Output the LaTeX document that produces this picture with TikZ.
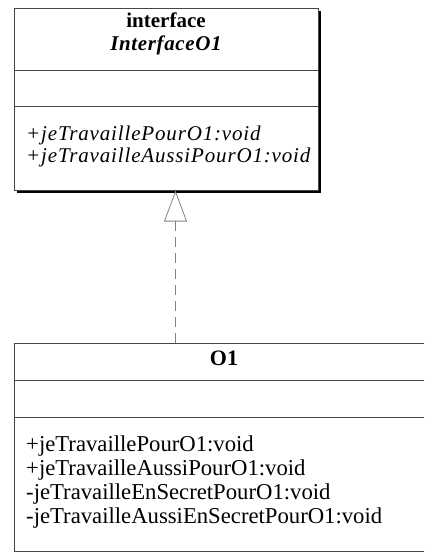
\documentclass[tikz,border=0pt]{standalone}
\usepackage{fontspec}
\setmainfont{Liberation Serif}
\usetikzlibrary{arrows.meta, shadows}
\definecolor{umlline}{RGB}{70, 70, 70}
\definecolor{realgray}{RGB}{130, 130, 130}

\begin{document}
\begin{tikzpicture}[x=1pt, y=-1pt,
  umlbox/.style={draw=umlline, fill=white, line width=1pt, inner sep=0pt},
  umlsep/.style={draw=umlline, line width=1pt},
  umlname/.style={inner sep=0pt, anchor=base, font=\fontsize{21}{23}\selectfont\bfseries},
  umlop/.style={inner sep=0pt, anchor=base west, font=\fontsize{22.7}{24}\selectfont},
  umlopi/.style={inner sep=0pt, anchor=base west,
    font=\fontsize{21}{22}\selectfont\itshape\addfontfeatures{LetterSpace=4}},
  realize/.style={draw=realgray, line width=0.8pt, dash pattern=on 10pt off 6pt,
    -{Triangle[open, length=31pt, width=23pt, fill=white]}}
]
  \clip (0, 0) rectangle (424, 552);

  % Interface box
  \node[umlbox, minimum width=304pt, minimum height=182pt,
    drop shadow={shadow xshift=3pt, shadow yshift=-3pt, fill=black, opacity=1}]
    (iface) at (166, 99) {};
  \draw[umlsep] (iface.west |- 0, 70) -- (iface.east |- 0, 70);
  \draw[umlsep] (iface.west |- 0, 106) -- (iface.east |- 0, 106);
  \node[umlname] (ifkind) at (166, 27) {interface};
  \node[umlname, font=\fontsize{21}{23}\selectfont\bfseries\itshape\addfontfeatures{LetterSpace=3}]
    (ifname) at (166, 50) {InterfaceO1};
  \node[umlopi] (ifop1) at (26, 140) {+jeTravaillePourO1:void};
  \node[umlopi] (ifop2) at (26, 162) {+jeTravailleAussiPourO1:void};

  % Class box
  \node[umlbox, minimum width=420pt, minimum height=208pt] (o1) at (224, 447) {};
  \draw[umlsep] (o1.west |- 0, 380) -- (o1.east |- 0, 380);
  \draw[umlsep] (o1.west |- 0, 417) -- (o1.east |- 0, 417);
  \node[umlname, font=\fontsize{22}{24}\selectfont\bfseries] (o1name) at (224, 365) {O1};
  \node[umlop] (o1op1) at (26, 451) {+jeTravaillePourO1:void};
  \node[umlop] (o1op2) at (26, 475) {+jeTravailleAussiPourO1:void};
  \node[umlop] (o1op3) at (26, 499) {-jeTravailleEnSecretPourO1:void};
  \node[umlop] (o1op4) at (26, 523) {-jeTravailleAussiEnSecretPourO1:void};

  % Realization
  \draw[realize] ([xshift=162pt]o1.north west) -- ([xshift=162pt]iface.south west);
\end{tikzpicture}
\end{document}
